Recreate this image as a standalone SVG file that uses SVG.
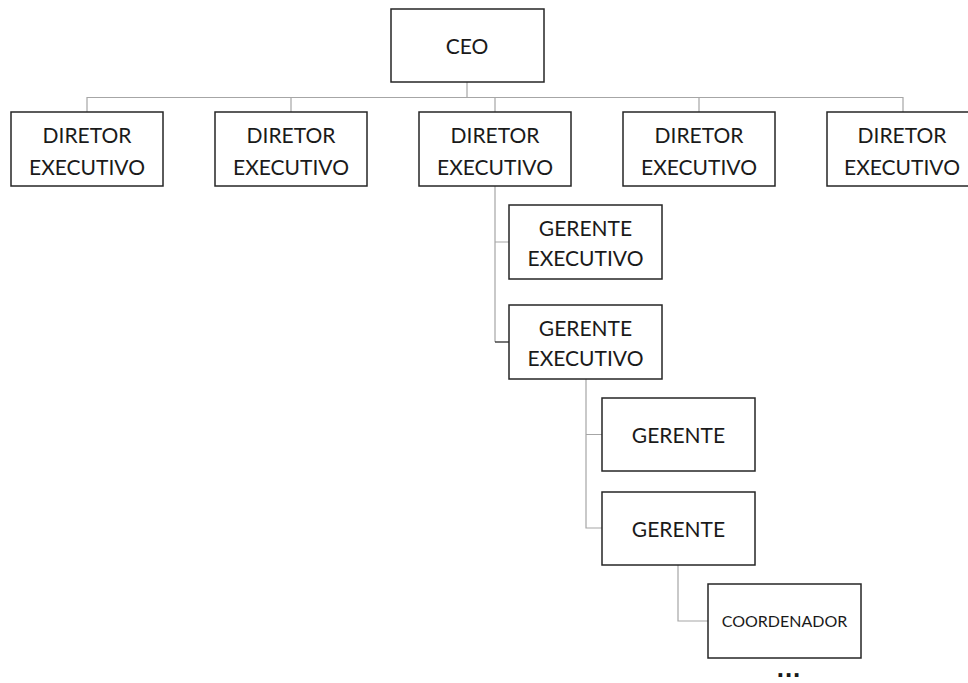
<svg xmlns="http://www.w3.org/2000/svg" width="968" height="683" viewBox="0 0 968 683">
<style>
.box{fill:#fff;stroke:#262626;stroke-width:1.5}
.t{font-family:Lato,"Open Sans",sans-serif;font-size:21px;fill:#1a1a1a;text-anchor:middle}
.s{font-size:16px}
.c{fill:none;stroke:#a6a6a6;stroke-width:1.2}
.k{stroke:#1a1a1a}
</style>
<rect width="968" height="683" fill="#fff"/>
<g id="connectors">
<path class="c" d="M467 82V97.5M87 112V97.5H903V112M291 97.5V112M495 97.5V112M699 97.5V112"/>
<path class="c" d="M495 186V342M495 242H509"/>
<path class="c k" d="M495 342H509"/>
<path class="c" d="M586 379V528H602M586 434.5H602"/>
<path class="c" d="M678 565V621H708"/>
</g>
<g id="ceo"><rect class="box" x="391" y="9" width="153" height="73"/><text class="t" x="467" y="53.5">CEO</text></g>
<g id="dir1"><rect class="box" x="11" y="112" width="152" height="74"/><text class="t" x="87" y="143">DIRETOR</text><text class="t" x="87" y="175">EXECUTIVO</text></g>
<g id="dir2"><rect class="box" x="215" y="112" width="152" height="74"/><text class="t" x="291" y="143">DIRETOR</text><text class="t" x="291" y="175">EXECUTIVO</text></g>
<g id="dir3"><rect class="box" x="419" y="112" width="152" height="74"/><text class="t" x="495" y="143">DIRETOR</text><text class="t" x="495" y="175">EXECUTIVO</text></g>
<g id="dir4"><rect class="box" x="623" y="112" width="152" height="74"/><text class="t" x="699" y="143">DIRETOR</text><text class="t" x="699" y="175">EXECUTIVO</text></g>
<g id="dir5"><rect class="box" x="827" y="112" width="152" height="74"/><text class="t" x="902" y="143">DIRETOR</text><text class="t" x="902" y="175">EXECUTIVO</text></g>
<g id="ge1"><rect class="box" x="509" y="205" width="153" height="74"/><text class="t" x="585.5" y="236">GERENTE</text><text class="t" x="585.5" y="266">EXECUTIVO</text></g>
<g id="ge2"><rect class="box" x="509" y="305" width="153" height="74"/><text class="t" x="585.5" y="336">GERENTE</text><text class="t" x="585.5" y="366">EXECUTIVO</text></g>
<g id="g1"><rect class="box" x="602" y="398" width="153" height="73"/><text class="t" x="678.5" y="443">GERENTE</text></g>
<g id="g2"><rect class="box" x="602" y="492" width="153" height="73"/><text class="t" x="678.5" y="537">GERENTE</text></g>
<g id="coord"><rect class="box" x="708" y="584" width="153" height="74"/><text class="t s" x="784.5" y="627">COORDENADOR</text></g>
<text x="789" y="677" style="font-family:'Liberation Sans',sans-serif;font-size:26px;font-weight:bold;fill:#1a1a1a;text-anchor:middle;letter-spacing:1px">...</text>
</svg>
